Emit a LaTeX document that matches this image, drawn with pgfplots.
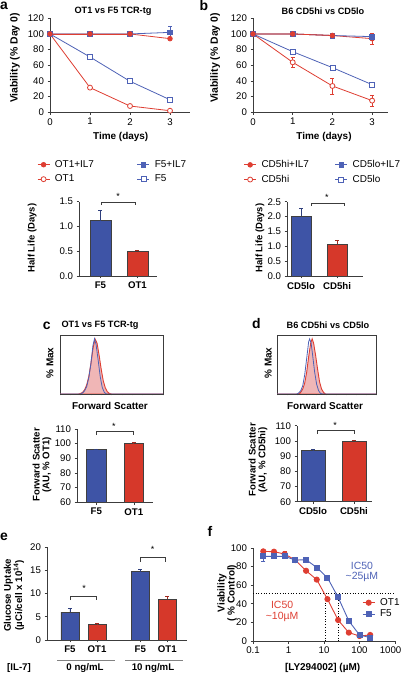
\documentclass[border=0pt]{standalone}
\usepackage{fontspec}
\setmainfont{Liberation Sans}
\usepackage{pgfplots}
\pgfplotsset{compat=1.18}
\definecolor{lred}{RGB}{222,62,50}
\definecolor{lblue}{RGB}{78,98,182}
\definecolor{bred}{RGB}{214,56,42}
\definecolor{bblue}{RGB}{62,84,166}
\definecolor{pinkf}{RGB}{240,182,182}
\definecolor{axc}{RGB}{60,60,60}
\definecolor{grayl}{RGB}{130,130,130}
\newcommand{\fs}[1]{\fontsize{#1}{#1}\selectfont}
\pgfplotsset{
  gp/.style={scale only axis, clip=false, enlargelimits=false,
    axis x line*=bottom, axis y line*=left,
    axis line style={-, line width=0.8bp, axc},
    tick align=outside, major tick length=2.5bp,
    tick style={line width=0.7bp, axc},
    ticklabel style={font=\fs{9.7}},
    xlabel style={font=\bfseries\fs{10}, anchor=center},
    ylabel style={font=\bfseries\fs{10}, anchor=center, align=center},
    /pgf/number format/assume math mode=true,
    xminorticks=false, yminorticks=false},
  bargp/.style={gp, ybar, bar shift=0pt, xtick={0,1},
    xticklabel style={font=\bfseries\fs{9.7}}},
  shortleg/.style={legend cell align=left, legend image code/.code={
    \draw[mark repeat=2, mark phase=2, ##1] plot coordinates {(0bp,0bp) (6bp,0bp) (12bp,0bp)};}},
  errp/.style={forget plot, only marks, mark=none, error bars/.cd, y dir=both, y explicit,
    error bar style={line width=0.8bp, #1}},
  berr/.style={error bars/.cd, y dir=plus, y explicit,
    error bar style={line width=0.8bp, #1}},
  hist/.style={scale only axis, xmin=0, xmax=100, ymin=0, ymax=107,
    xtick={0,10,...,100}, xticklabels={}, ytick=\empty, xtick pos=left,
    tick align=outside, major tick length=1.5bp, tick style={axc, line width=0.5bp},
    axis line style={axc, line width=0.8bp},
    xlabel={Forward Scatter}, ylabel={\% Max},
    xlabel style={font=\bfseries\fs{10}, anchor=center},
    ylabel style={font=\bfseries\fs{10}, anchor=center}},
}
\begin{document}
\begin{tikzpicture}[x=1bp,y=1bp]
\path[use as bounding box] (0,0) rectangle (403,675);

% ---------------- panel a ----------------
\begin{axis}[gp, at={(50bp,562.7bp)}, anchor=south west, width=140bp, height=94bp,
  xmin=0, xmax=3.5, ymin=0, ymax=120, xtick={0,1,2,3}, ytick={0,20,...,120},
  xlabel={Time (days)}, ylabel={Viability (\% Day 0)},
  xlabel style={at={(axis description cs:0.505,-0.263)}},
  ylabel style={at={(axis description cs:-0.25,0.578)}, font=\bfseries\fs{10.5}},
  shortleg, legend columns=2,
  legend style={at={(axis description cs:-0.093,-0.50)}, anchor=north west, draw=none, fill=none,
    inner sep=0pt, row sep=4bp, column sep=4bp, font=\fs{10}, nodes={inner sep=1bp},
    /tikz/every even column/.append style={column sep=42bp}}]
\addplot[errp=lblue] coordinates {(3,102) +- (0,8.5)};
\addplot[lred, line width=0.8bp, mark=*, mark size=2.3bp] coordinates {(0,100) (1,100) (2,100) (3,94)};
\addlegendentry{OT1+IL7}
\addplot[lblue, line width=0.8bp, mark=square*, mark size=2.4bp] coordinates {(0,100) (1,100) (2,100) (3,102)};
\addlegendentry{F5+IL7}
\addplot[lred, line width=0.8bp, mark=*, mark size=2.5bp, mark options={fill=white}] coordinates {(0,100) (1,31.5) (2,8) (3,2)};
\addlegendentry{OT1}
\addplot[lblue, line width=0.8bp, mark=square*, mark size=2.5bp, mark options={fill=white}] coordinates {(0,100) (1,70.6) (2,39.6) (3,16)};
\addlegendentry{F5}
\addplot[lred, forget plot, line width=0.8bp, mark=*, mark size=2.3bp] coordinates {(0,100) (1,100) (2,100)};
\end{axis}

% ---------------- panel b ----------------
\begin{axis}[gp, at={(253bp,562.7bp)}, anchor=south west, width=135bp, height=94bp,
  xmin=0, xmax=3.4, ymin=0, ymax=120, xtick={0,1,2,3}, ytick={0,20,...,120},
  xlabel={Time (days)}, ylabel={Viability (\% Day 0)},
  xlabel style={at={(axis description cs:0.526,-0.263)}},
  ylabel style={at={(axis description cs:-0.28,0.578)}, font=\bfseries\fs{10.5}},
  shortleg, legend columns=2,
  legend style={at={(axis description cs:-0.07,-0.50)}, anchor=north west, draw=none, fill=none,
    inner sep=0pt, row sep=4bp, column sep=4bp, font=\fs{10}, nodes={inner sep=1bp},
    /tikz/every even column/.append style={column sep=25bp}}]
\addplot[errp=lred] coordinates {(1,63.8) +- (0,6.4) (2,33.6) +- (0,10) (3,14.9) +- (0,7.5) (3,94) +- (0,6.6)};
\addplot[errp=lblue] coordinates {(3,96.6) +- (0,3.4)};
\addplot[lred, line width=0.8bp, mark=*, mark size=2.3bp] coordinates {(0,100) (1,100) (2,98) (3,94)};
\addlegendentry{CD5hi+IL7}
\addplot[lblue, line width=0.8bp, mark=square*, mark size=2.4bp] coordinates {(0,100) (1,100) (2,98) (3,96.6)};
\addlegendentry{CD5lo+IL7}
\addplot[lred, line width=0.8bp, mark=*, mark size=2.5bp, mark options={fill=white}] coordinates {(0,100) (1,63.8) (2,33.6) (3,14.9)};
\addlegendentry{CD5hi}
\addplot[lblue, line width=0.8bp, mark=square*, mark size=2.5bp, mark options={fill=white}] coordinates {(0,100) (1,77.4) (2,57) (3,35.3)};
\addlegendentry{CD5lo}
\addplot[lred, forget plot, line width=0.8bp, mark=*, mark size=2.3bp] coordinates {(0,100) (1,100) (2,98)};
\end{axis}

% ---------------- half life a ----------------
\begin{axis}[bargp, at={(79bp,399bp)}, anchor=south west, width=78bp, height=74.3bp,
  xmin=-0.58, xmax=1.53, ymin=0, ymax=1.5, ytick={0,0.5,1,1.5}, bar width=21bp,
  xticklabels={F5,OT1},
  yticklabel style={/pgf/number format/.cd, fixed, fixed zerofill, precision=1},
  ylabel={Half Life (Days)},
  ylabel style={at={(axis description cs:-0.6,0.51)}, font=\bfseries\fs{9.5}}]
\addplot[fill=bblue, draw=black!75, line width=0.6bp, berr=bblue!75!black] coordinates {(0,1.12) +- (0,0.2)};
\addplot[fill=bred, draw=black!75, line width=0.6bp, berr=bred!75!black] coordinates {(1,0.50) +- (0,0.02)};
\draw[line width=0.6bp, axc] (axis cs:0.03,1.43) -- (axis cs:0.03,1.48) -- (axis cs:0.93,1.48) -- (axis cs:0.93,1.43);
\node[font=\fs{9}] at (axis cs:0.48,1.6) {*};
\end{axis}

% ---------------- half life b ----------------
\begin{axis}[bargp, at={(287bp,399bp)}, anchor=south west, width=76bp, height=74.3bp,
  xmin=-0.39, xmax=1.72, ymin=0, ymax=2.5, ytick={0,0.5,...,2.5}, bar width=20bp,
  xticklabels={CD5lo,CD5hi},
  yticklabel style={/pgf/number format/.cd, fixed, fixed zerofill, precision=1},
  ylabel={Half Life (Days)},
  ylabel style={at={(axis description cs:-0.355,0.51)}, font=\bfseries\fs{9.5}}]
\addplot[fill=bblue, draw=black!75, line width=0.6bp, berr=bblue!75!black] coordinates {(0,2.02) +- (0,0.25)};
\addplot[fill=bred, draw=black!75, line width=0.6bp, berr=bred!75!black] coordinates {(1,1.08) +- (0,0.12)};
\draw[line width=0.6bp, axc] (axis cs:0.28,2.37) -- (axis cs:0.28,2.456) -- (axis cs:1.19,2.456) -- (axis cs:1.19,2.37);
\node[font=\fs{9}] at (axis cs:0.72,2.66) {*};
\end{axis}

% ---------------- titles and letters ----------------
\node[font=\bfseries\fs{14}] at (4,669) {a};
\node[font=\bfseries\fs{9.2}] at (113,664) {OT1 vs F5 TCR-tg};
\node[font=\bfseries\fs{14}] at (204,669) {b};
\node[font=\bfseries\fs{9.2}] at (323,664) {B6 CD5hi vs CD5lo};
\node[font=\bfseries\fs{14}] at (46.7,349.5) {c};
\node[font=\bfseries\fs{9.2}] at (100,350) {OT1 vs F5 TCR-tg};
\node[font=\bfseries\fs{14}] at (256.5,351.5) {d};
\node[font=\bfseries\fs{9.2}] at (328,350) {B6 CD5hi vs CD5lo};
\node[font=\bfseries\fs{14}] at (4,138) {e};
\node[font=\bfseries\fs{14}] at (210,144) {f};

% ---------------- histogram c ----------------
\begin{axis}[hist, at={(60bp,281bp)}, anchor=south west, width=103bp, height=59bp,
  xlabel style={at={(axis description cs:0.485,-0.2)}},
  ylabel style={at={(axis description cs:-0.097,0.525)}}]
\addplot[fill=pinkf, draw=lred, line width=0.9bp] coordinates {(0,0) (18,0) (20,1) (22,3) (24,8) (26,17) (28,32) (30,55) (32,82) (34,100) (36,92) (38,70) (40,45) (42,24) (44,11) (46,4) (48,1) (50,0) (100,0)} \closedcycle;
\addplot[draw=lblue, line width=0.8bp] coordinates {(0,0) (20,0) (22,2) (24,6) (26,14) (28,30) (30,55) (32,88) (33.5,100) (35,90) (37,62) (39,32) (41,12) (43,3) (45,0) (100,0)};
\end{axis}

% ---------------- histogram d ----------------
\begin{axis}[hist, at={(277bp,281bp)}, anchor=south west, width=99bp, height=59bp,
  xlabel style={at={(axis description cs:0.485,-0.2)}},
  ylabel style={at={(axis description cs:-0.09,0.525)}}]
\addplot[fill=pinkf, draw=lred, line width=0.9bp] coordinates {(0,0) (20,0) (22,1) (24,3) (26,9) (28,20) (30,40) (32,68) (34,92) (35.5,100) (37,92) (39,70) (41,45) (43,22) (45,9) (47,3) (49,0) (100,0)} \closedcycle;
\addplot[draw=lblue, line width=0.8bp] coordinates {(0,0) (20,0) (22,2) (24,6) (26,15) (28,35) (30,65) (32,95) (33,100) (34.5,92) (36,70) (38,40) (40,18) (42,6) (44,1) (46,0) (100,0)};
\end{axis}

% ---------------- FSC c ----------------
\begin{axis}[bargp, at={(77bp,172.7bp)}, anchor=south west, width=76bp, height=73.3bp,
  xmin=-0.515, xmax=1.51, ymin=60, ymax=110, ytick={60,70,...,110}, bar width=19.5bp,
  clip=true, clip mode=individual, xticklabels={F5,OT1},
  ylabel={Forward Scatter\\(AU, \% OT1)},
  ylabel style={at={(axis description cs:-0.46,0.51)}, font=\bfseries\fs{9.7}}]
\addplot[fill=bblue, draw=black!75, line width=0.6bp, berr=bblue!75!black] coordinates {(0,96) +- (0,0.5)};
\addplot[fill=bred, draw=black!75, line width=0.6bp, berr=bred!75!black] coordinates {(1,100) +- (0,1)};
\draw[line width=0.6bp, axc] (axis cs:0,105.9) -- (axis cs:0,108.2) -- (axis cs:0.99,108.2) -- (axis cs:0.99,105.9);
\node[font=\fs{9}] at (axis cs:0.47,112) {*};
\end{axis}

% ---------------- FSC d ----------------
\begin{axis}[bargp, at={(297bp,173.3bp)}, anchor=south west, width=75bp, height=76bp,
  xmin=-0.39, xmax=1.44, ymin=60, ymax=110, ytick={60,70,...,110}, bar width=24bp,
  clip=true, clip mode=individual, xticklabels={CD5lo,CD5hi},
  ylabel={Forward Scatter\\(AU, \% CD5hi)},
  ylabel style={at={(axis description cs:-0.52,0.55)}, font=\bfseries\fs{9.7}}]
\addplot[fill=bblue, draw=black!75, line width=0.6bp, berr=bblue!75!black] coordinates {(0,93.5) +- (0,0.8)};
\addplot[fill=bred, draw=black!75, line width=0.6bp, berr=bred!75!black] coordinates {(1,100) +- (0,0.3)};
\draw[line width=0.6bp, axc] (axis cs:0.1,104.5) -- (axis cs:0.1,107.2) -- (axis cs:1,107.2) -- (axis cs:1,104.5);
\node[font=\fs{9}] at (axis cs:0.54,110.5) {*};
\end{axis}

% ---------------- panel e ----------------
\begin{axis}[bargp, at={(47bp,35bp)}, anchor=south west, width=140bp, height=93bp,
  xmin=-0.85, xmax=4.33, ymin=0, ymax=20, ytick={0,5,...,20}, bar width=18bp,
  xtick={0,1,2.6,3.6}, xticklabels={F5,OT1,F5,OT1},
  ylabel={Glucose Uptake\\(µCi/cell x 10\textsuperscript{14})},
  ylabel style={at={(axis description cs:-0.236,0.48)}, font=\bfseries\fs{9.7}}]
\addplot[fill=bblue, draw=black!75, line width=0.6bp, berr=bblue!75!black] coordinates {(0,6.0) +- (0,0.8) (2.6,14.7) +- (0,0.5)};
\addplot[fill=bred, draw=black!75, line width=0.6bp, berr=bred!75!black] coordinates {(1,3.3) +- (0,0.3) (3.6,8.8) +- (0,0.6)};
\draw[line width=0.6bp, axc] (axis cs:0.02,8.6) -- (axis cs:0.02,9.5) -- (axis cs:0.99,9.5) -- (axis cs:0.99,8.6);
\node[font=\fs{9}] at (axis cs:0.52,11.2) {*};
\draw[line width=0.6bp, axc] (axis cs:2.59,16.8) -- (axis cs:2.59,17.7) -- (axis cs:3.54,17.7) -- (axis cs:3.54,16.8);
\node[font=\fs{9}] at (axis cs:3.06,19.4) {*};
\end{axis}
\draw[grayl, line width=0.8bp] (57,15) -- (115,15);
\draw[grayl, line width=0.8bp] (125,15) -- (183,15);
\node[font=\bfseries\fs{9.7}] at (19,7) {[IL-7]};
\node[font=\bfseries\fs{9.7}] at (85,7) {0 ng/mL};
\node[font=\bfseries\fs{9.7}] at (153,7) {10 ng/mL};

% ---------------- panel f ----------------
\begin{axis}[gp, at={(253bp,34bp)}, anchor=south west, width=142bp, height=93bp,
  xmode=log, log basis x=10, xmin=0.1, xmax=1000, ymin=0, ymax=100,
  xtick={0.1,1,10,100,1000}, xticklabels={0.1,1,10,100,\kern-9bp\relax 1000}, ytick={0,20,...,100},
  xlabel={{[LY294002]} (µM)}, ylabel={Viability\\( \% Control)},
  xlabel style={at={(axis description cs:0.49,-0.29)}},
  ylabel style={at={(axis description cs:-0.183,0.516)}},
  shortleg,
  legend style={at={(axis description cs:0.768,0.47)}, anchor=north west, draw=none, fill=none,
    inner sep=0pt, row sep=1bp, column sep=4bp, font=\fs{10}, nodes={inner sep=1bp}}]
\draw[dotted, line width=0.7bp] (axis cs:0.1,51) -- (axis cs:1000,51);
\draw[dotted, line width=0.7bp] (axis cs:11,0) -- (axis cs:11,51);
\draw[dotted, line width=0.7bp] (axis cs:25,0) -- (axis cs:25,51);
\addplot[errp=lred] coordinates {(0.78,93.5) +- (0,3.5)};
\addplot[errp=lblue] coordinates {(0.195,91) +- (0,5.5)};
\addplot[lred, line width=0.9bp, mark=*, mark size=2.6bp] coordinates {(0.195,96.4) (0.39,96) (0.78,93.5) (1.5625,87) (3.125,75.5) (6.25,66) (12.5,45) (25,22.5) (50,9) (100,5.4) (200,6.5)};
\addlegendentry{OT1}
\addplot[lblue, line width=0.9bp, mark=square*, mark size=2.5bp] coordinates {(0.195,91) (0.39,91) (0.78,91) (1.5625,87) (3.125,87.4) (6.25,79) (12.5,68) (25,47) (50,21.6) (100,6.5) (200,3.6)};
\addlegendentry{F5}
\node[lblue, align=center, font=\fs{10.5}] at (axis cs:117,74) {IC50\\\textasciitilde 25µM};
\node[lred, align=center, font=\fs{10.5}] at (axis cs:0.66,32) {IC50\\\textasciitilde 10µM};
\end{axis}
\end{tikzpicture}
\end{document}
